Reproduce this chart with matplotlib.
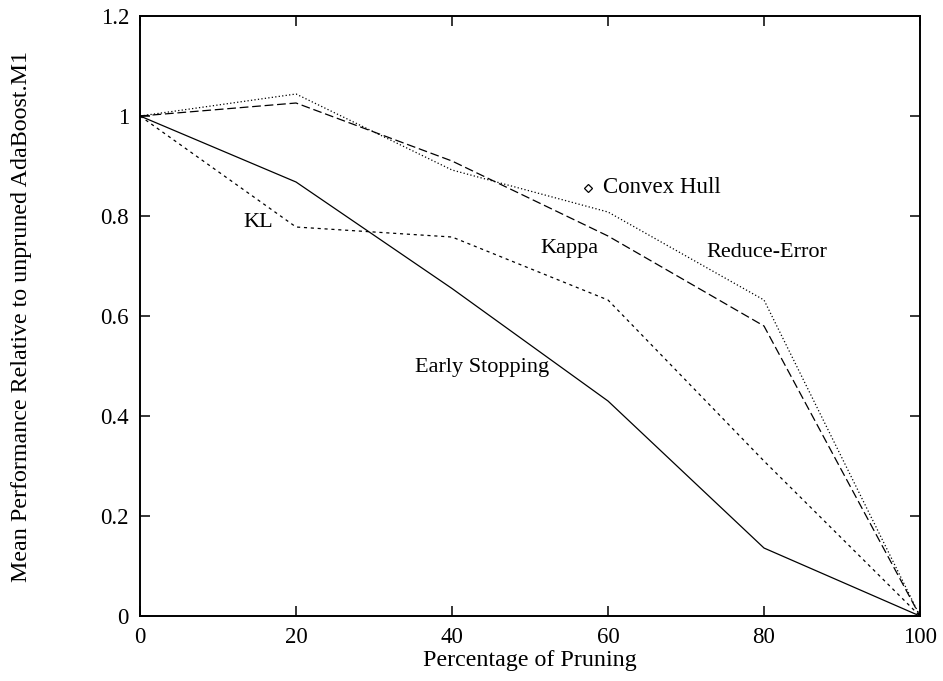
import matplotlib
matplotlib.use("Agg")
import matplotlib.pyplot as plt
from matplotlib.ticker import FuncFormatter

plt.rcParams['font.family'] = ['Liberation Serif', 'DejaVu Serif']
plt.rcParams['font.size'] = 15.5

pruning = [0, 20, 40, 60, 80, 100]
early_stopping = [1.0, 0.868, 0.655, 0.430, 0.136, 0.0]
kl = [1.0, 0.778, 0.758, 0.632, 0.310, 0.0]
kappa = [1.0, 1.026, 0.910, 0.760, 0.580, 0.0]
reduce_error = [1.0, 1.044, 0.892, 0.808, 0.632, 0.0]
convex_hull = (57.4, 0.856)

fig = plt.figure(figsize=(9.43, 6.81), dpi=100)
ax = fig.add_axes([0.1485, 0.0954, 0.8271, 0.8811])

ax.plot(pruning, early_stopping, color='black', lw=0.9, ls='-')
ax.plot(pruning, kl, color='black', lw=0.9, ls=(0, (2.5, 3)))
ax.plot(pruning, kappa, color='black', lw=0.9, ls=(0, (7, 3)))
ax.plot(pruning, reduce_error, color='black', lw=0.9, ls=(0, (1, 1.8)))
ax.plot([convex_hull[0]], [convex_hull[1]], marker='D', ms=4.5, mfc='white', mec='black', mew=0.9, ls='none')

ax.text(15.1, 0.788, 'KL', ha='center', va='center', fontsize=16)
ax.text(55.0, 0.736, 'Kappa', ha='center', va='center', fontsize=16)
ax.text(80.4, 0.728, 'Reduce-Error', ha='center', va='center', fontsize=16)
ax.text(43.8, 0.498, 'Early Stopping', ha='center', va='center', fontsize=16)
ax.text(59.3, 0.857, 'Convex Hull', ha='left', va='center', fontsize=16.5)

ax.set_xlim(0, 100)
ax.set_ylim(0, 1.2)
ax.set_xticks([0, 20, 40, 60, 80, 100])
ax.set_yticks([0, 0.2, 0.4, 0.6, 0.8, 1.0, 1.2])
ax.yaxis.set_major_formatter(FuncFormatter(lambda v, p: '%g' % v))
ax.tick_params(direction='in', top=True, right=True, length=7, width=1.1, pad=8, labelsize=16.5)
for s in ax.spines.values():
    s.set_linewidth(1.4)

ax.set_xlabel('Percentage of Pruning', labelpad=1, fontsize=17.3)
ax.set_ylabel('Mean Performance Relative to unpruned AdaBoost.M1', labelpad=49, fontsize=17.3)

fig.savefig('out.png', dpi=100)
